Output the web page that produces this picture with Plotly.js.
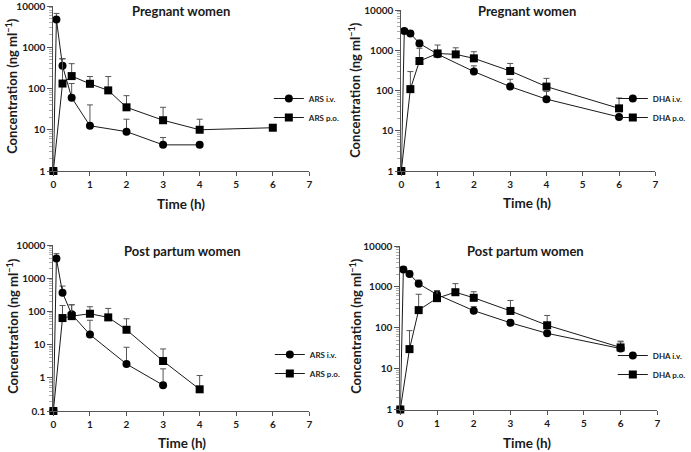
<!DOCTYPE html>
<html>
<head>
<meta charset="utf-8">
<script src="https://cdn.plot.ly/plotly-3.0.1.min.js"></script>
<style>html,body{margin:0;padding:0;background:#fff;}#chart{width:691px;height:452px;}</style>
</head>
<body>
<div id="chart"></div>
<script>
// ---------- DATA ----------
const panelTitles = ["Pregnant women", "Pregnant women", "Post partum women", "Post partum women"];
const xTitle = "Time (h)";
const yTitle = "Concentration (ng ml<sup>−1</sup>)";
const xTickVals = [0, 1, 2, 3, 4, 5, 6, 7];

// Panel 1: ARS, pregnant
const p1IvName = "ARS i.v.";
const p1IvTime = [0, 0.083, 0.25, 0.5, 1, 2, 3, 4];
const p1IvConc = [1, 4700, 355, 60, 12.5, 9, 4.3, 4.3];
const p1IvSD   = [0, 1900, 175, 72, 27.5, 9, 2.2, 0];
const p1PoName = "ARS p.o.";
const p1PoTime = [0, 0.25, 0.5, 1, 1.5, 2, 3, 4, 6];
const p1PoConc = [1, 132, 200, 130, 90, 35, 17, 10, 11.2];
const p1PoSD   = [0, 388, 200, 65, 105, 32, 18, 8, 0];

// Panel 2: DHA, pregnant
const p2IvName = "DHA i.v.";
const p2IvTime = [0, 0.083, 0.25, 0.5, 1, 2, 3, 4, 6];
const p2IvConc = [1, 3000, 2600, 1480, 800, 295, 125, 61, 22];
const p2IvSD   = [0, 350, 330, 300, 200, 115, 65, 34, 0];
const p2PoName = "DHA p.o.";
const p2PoTime = [0, 0.25, 0.5, 1, 1.5, 2, 3, 4, 6];
const p2PoConc = [1, 108, 540, 830, 790, 630, 305, 125, 36];
const p2PoSD   = [0, 187, 580, 520, 360, 290, 165, 75, 29];

// Panel 3: ARS, post partum
const p3IvName = "ARS i.v.";
const p3IvTime = [0, 0.083, 0.25, 0.5, 1, 2, 3];
const p3IvConc = [0.1, 3900, 365, 82, 20, 2.6, 0.6];
const p3IvSD   = [0, 1600, 215, 76, 34, 5.7, 1.26];
const p3PoName = "ARS p.o.";
const p3PoTime = [0, 0.25, 0.5, 1, 1.5, 2, 3, 4];
const p3PoConc = [0.1, 63, 72, 85, 66, 28, 3.2, 0.45];
const p3PoSD   = [0, 87, 86, 53, 57, 32, 4.2, 0.72];

// Panel 4: DHA, post partum
const p4IvName = "DHA i.v.";
const p4IvTime = [0, 0.083, 0.25, 0.5, 1, 2, 3, 4, 6];
const p4IvConc = [1, 2650, 2070, 1190, 650, 262, 132, 73, 31];
const p4IvSD   = [0, 500, 380, 280, 160, 68, 0, 0, 14];
const p4PoName = "DHA p.o.";
const p4PoTime = [0, 0.25, 0.5, 1, 1.5, 2, 3, 4, 6];
const p4PoConc = [1, 30, 270, 530, 740, 540, 258, 115, 33];
const p4PoSD   = [0, 55, 390, 280, 460, 220, 207, 85, 14];

const yTicksA = [1, 10, 100, 1000, 10000];
const yTickTextA = ["1", "10", "100", "1000", "10000"];
const yTicksB = [0.1, 1, 10, 100, 1000, 10000];
const yTickTextB = ["0.1", "1", "10", "100", "1000", "10000"];

// ---------- LAYOUT HELPERS ----------
const W = 691, H = 452;
const fx = p => p / W;
const fy = p => 1 - p / H;
const FONT = "Lato, 'Open Sans', sans-serif";
const INK = "#1a1a1a";

function minorVals(lo, hi) {
  const v = [];
  for (let e = lo; e < hi; e++) for (let m = 2; m <= 9; m++) v.push(m * Math.pow(10, e));
  return v;
}

function series(name, t, c, sd, sym, xa, ya, leg) {
  return {
    type: "scatter", mode: "lines+markers", name: name,
    x: t, y: c, xaxis: xa, yaxis: ya, legend: leg,
    cliponaxis: false,
    line: {color: INK, width: 1},
    marker: {symbol: sym, size: 8, color: "#000"},
    error_y: {type: "data", symmetric: false, array: sd, arrayminus: sd.map(() => 0),
              color: "#555", thickness: 1, width: 3}
  };
}

const data = [
  series(p1IvName, p1IvTime, p1IvConc, p1IvSD, "circle", "x", "y", "legend"),
  series(p1PoName, p1PoTime, p1PoConc, p1PoSD, "square", "x", "y", "legend"),
  series(p2IvName, p2IvTime, p2IvConc, p2IvSD, "circle", "x2", "y2", "legend2"),
  series(p2PoName, p2PoTime, p2PoConc, p2PoSD, "square", "x2", "y2", "legend2"),
  series(p3IvName, p3IvTime, p3IvConc, p3IvSD, "circle", "x3", "y3", "legend3"),
  series(p3PoName, p3PoTime, p3PoConc, p3PoSD, "square", "x3", "y3", "legend3"),
  series(p4IvName, p4IvTime, p4IvConc, p4IvSD, "circle", "x4", "y4", "legend4"),
  series(p4PoName, p4PoTime, p4PoConc, p4PoSD, "square", "x4", "y4", "legend4")
];

const tickFont = {family: FONT, size: 10, color: INK, weight: "bold"};

function xaxis(l, r, anchor) {
  return {domain: [fx(l), fx(r)], range: [0, 7], tickvals: xTickVals, ticks: "outside", ticklen: 4,
          tickcolor: "#555", showline: true, linecolor: "#555", linewidth: 1, showgrid: false,
          zeroline: false, tickfont: tickFont, anchor: anchor, fixedrange: true,
          ticklabeloverflow: "allow"};
}
function yaxis(top, bot, lo, hi, tv, tt, anchor) {
  return {type: "log", domain: [fy(bot), fy(top)], range: [lo, hi], tickvals: tv, ticktext: tt,
          ticks: "outside", ticklen: 5, tickcolor: "#555", showline: true, linecolor: "#555",
          linewidth: 1, showgrid: false, zeroline: false, tickfont: tickFont, anchor: anchor,
          minor: {ticks: "outside", ticklen: 3, tickcolor: "#aaa", tickvals: minorVals(lo, hi)},
          fixedrange: true, ticklabeloverflow: "allow"};
}

const legFont = {family: FONT, size: 8, color: INK, weight: "bold"};
function legend(textX, rowY) {
  return {x: fx(textX - 37), y: fy(rowY), xanchor: "left", yanchor: "top",
          font: legFont, bgcolor: "rgba(0,0,0,0)", borderwidth: 0, tracegroupgap: 0};
}

function ann(text, x, y, size, angle) {
  return {text: text, x: fx(x), y: fy(y), xref: "paper", yref: "paper", showarrow: false,
          xanchor: "center", yanchor: "middle", textangle: angle || 0,
          font: {family: FONT, size: size, color: INK, weight: "bold"}};
}

const layout = {
  width: W, height: H, margin: {l: 0, r: 0, t: 0, b: 0},
  paper_bgcolor: "#fff", plot_bgcolor: "#fff", showlegend: true,
  xaxis: xaxis(54, 313, "y"),
  yaxis: yaxis(6, 171, 0, 4, yTicksA, yTickTextA, "x"),
  xaxis2: xaxis(406, 663, "y2"),
  yaxis2: yaxis(10, 171, 0, 4, yTicksA, yTickTextA, "x2"),
  xaxis3: xaxis(54, 313, "y3"),
  yaxis3: yaxis(245, 411, -1, 4, yTicksB, yTickTextB, "x3"),
  xaxis4: xaxis(405, 665, "y4"),
  yaxis4: yaxis(246, 409.5, 0, 4, yTicksA, yTickTextA, "x4"),
  legend: legend(309, 84),
  legend2: legend(657, 84),
  legend3: legend(310, 340),
  legend4: legend(657, 341),
  annotations: [
    ann(panelTitles[0], 183, 11, 13), ann(panelTitles[1], 533, 11, 13),
    ann(panelTitles[2], 185, 251, 13), ann(panelTitles[3], 532, 251, 13),
    ann(xTitle, 183, 204, 13.5), ann(xTitle, 533, 203, 13.5),
    ann(xTitle, 184, 443, 13.5), ann(xTitle, 533, 443, 13.5),
    ann(yTitle, 12, 86, 13, -90), ann(yTitle, 359, 90, 13, -90),
    ann(yTitle, 12, 326, 13, -90), ann(yTitle, 359, 326, 13, -90)
  ]
};

Plotly.newPlot("chart", data, layout, {staticPlot: true, displayModeBar: false});
</script>
</body>
</html>
